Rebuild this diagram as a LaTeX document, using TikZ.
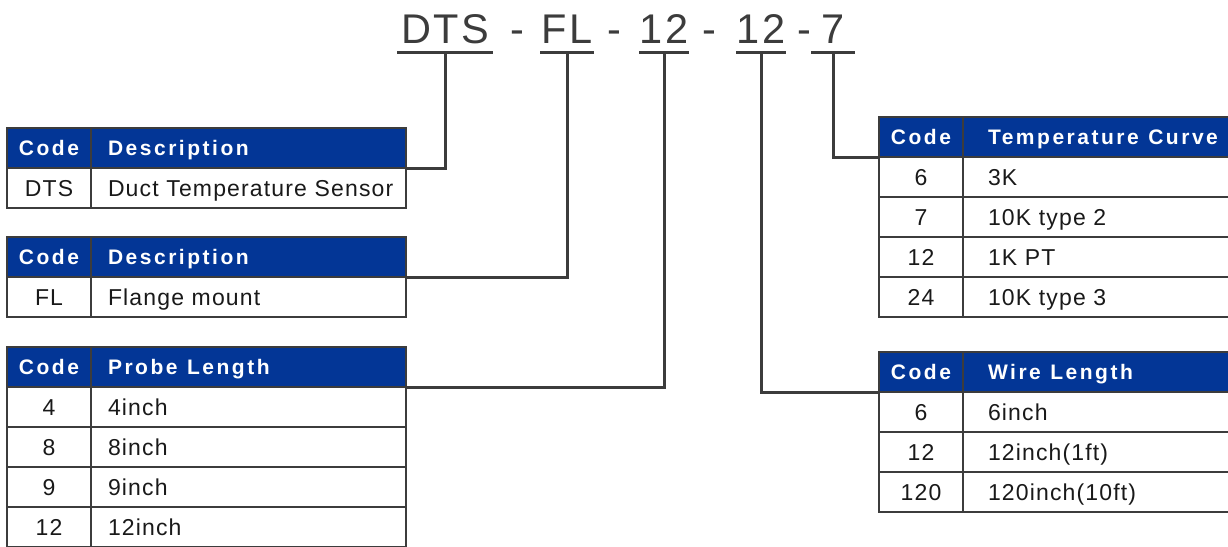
\documentclass[tikz,border=0pt]{standalone}
\usepackage{fontspec}
\setmainfont{Liberation Sans}
\newfontfamily\titlefont[LetterSpace=6]{Liberation Sans}
\newfontfamily\headfont[LetterSpace=12]{Liberation Sans}
\newfontfamily\bodyfont[LetterSpace=5]{Liberation Sans}
\usetikzlibrary{positioning}
\definecolor{hdblue}{RGB}{3,54,150}
\definecolor{rulegray}{RGB}{60,60,60}
\tikzset{
  cell/.style={draw=rulegray, line width=2pt, minimum height=40pt, inner ysep=0pt, outer sep=0pt,
    text height=16.5pt, text depth=0pt, text=black!90, font=\bodyfont\fontsize{23}{23}\selectfont},
  head/.style={cell, fill=hdblue, text=white, text height=15pt, font=\headfont\bfseries\fontsize{21}{21}\selectfont},
  codecol/.style={minimum width=84pt, inner xsep=0pt, align=center},
  desccol/.style={minimum width=315pt, text width=281pt, inner xsep=17pt, align=left},
  widecol/.style={minimum width=290pt, text width=240pt, inner xsep=25pt, align=left},
  part/.style={inner sep=0pt, text depth=0pt, text=rulegray, anchor=base, font=\titlefont\fontsize{41.5}{41.5}\selectfont},
  link/.style={draw=rulegray, line width=3pt},
}
\begin{document}
\begin{tikzpicture}[x=1pt, y=-1pt]
\useasboundingbox (0,0) rectangle (1228,546);
\clip (0,0) rectangle (1228,546);
% model code
\node[part, minimum width=95pt] (dts) at (445,43) {DTS};
\node[part] (dash1) at (517,43) {-};
\node[part, minimum width=53pt] (fl) at (567,43) {FL};
\node[part] (dash2) at (614,43) {-};
\node[part, minimum width=44pt] (probe) at (664,43) {12};
\node[part] (dash3) at (709,43) {-};
\node[part, minimum width=44pt] (wire) at (761,43) {12};
\node[part] (dash4) at (804,43) {-};
\node[part, minimum width=43pt] (curve) at (833,43) {7};
\draw[link] ([yshift=-9pt]dts.south west) -- ([yshift=-9pt]dts.south east);
\draw[link] ([yshift=-9pt]fl.south west) -- ([yshift=-9pt]fl.south east);
\draw[link] ([yshift=-9pt]probe.south west) -- ([yshift=-9pt]probe.south east);
\draw[link] ([yshift=-9pt]wire.south west) -- ([yshift=-9pt]wire.south east);
\draw[link] ([yshift=-9pt]curve.south west) -- ([yshift=-9pt]curve.south east);
% sensor type
\node[cell, head, codecol, anchor=north west] (dtsch) at (7,128) {Code};
\node[cell, head, desccol, right=0pt of dtsch] (dtshd) {Description};
\node[cell, codecol, below=0pt of dtsch] (dtsc1) {DTS};
\node[cell, desccol, below=0pt of dtshd] (dtsd1) {Duct Temperature Sensor};
% mounting
\node[cell, head, codecol, anchor=north west] (flch) at (7,237) {Code};
\node[cell, head, desccol, right=0pt of flch] (flhd) {Description};
\node[cell, codecol, below=0pt of flch] (flc1) {FL};
\node[cell, desccol, below=0pt of flhd] (fld1) {Flange mount};
% probe length
\node[cell, head, codecol, anchor=north west] (pbch) at (7,347) {Code};
\node[cell, head, desccol, right=0pt of pbch] (pbhd) {Probe\hspace{0.45em}Length};
\node[cell, codecol, below=0pt of pbch] (pbc1) {4};
\node[cell, desccol, below=0pt of pbhd] (pbd1) {4inch};
\node[cell, codecol, below=0pt of pbc1] (pbc2) {8};
\node[cell, desccol, below=0pt of pbd1] (pbd2) {8inch};
\node[cell, codecol, below=0pt of pbc2] (pbc3) {9};
\node[cell, desccol, below=0pt of pbd2] (pbd3) {9inch};
\node[cell, codecol, below=0pt of pbc3] (pbc4) {12};
\node[cell, desccol, below=0pt of pbd3] (pbd4) {12inch};
% temperature curve
\node[cell, head, codecol, anchor=north west] (tcch) at (879,117) {Code};
\node[cell, head, widecol, right=0pt of tcch] (tchd) {Temperature\hspace{0.45em}Curve};
\node[cell, codecol, below=0pt of tcch] (tcc1) {6};
\node[cell, widecol, below=0pt of tchd] (tcd1) {3K};
\node[cell, codecol, below=0pt of tcc1] (tcc2) {7};
\node[cell, widecol, below=0pt of tcd1] (tcd2) {10K type 2};
\node[cell, codecol, below=0pt of tcc2] (tcc3) {12};
\node[cell, widecol, below=0pt of tcd2] (tcd3) {1K PT};
\node[cell, codecol, below=0pt of tcc3] (tcc4) {24};
\node[cell, widecol, below=0pt of tcd3] (tcd4) {10K type 3};
% wire length
\node[cell, head, codecol, anchor=north west] (wlch) at (879,352) {Code};
\node[cell, head, widecol, right=0pt of wlch] (wlhd) {Wire\hspace{0.45em}Length};
\node[cell, codecol, below=0pt of wlch] (wlc1) {6};
\node[cell, widecol, below=0pt of wlhd] (wld1) {6inch};
\node[cell, codecol, below=0pt of wlc1] (wlc2) {12};
\node[cell, widecol, below=0pt of wld1] (wld2) {12inch(1ft)};
\node[cell, codecol, below=0pt of wlc2] (wlc3) {120};
\node[cell, widecol, below=0pt of wld2] (wld3) {120inch(10ft)};
% leaders
\draw[link] ([yshift=-9pt]dts.south) |- (dtshd.south east);
\draw[link] ([yshift=-9pt]fl.south) |- (flhd.south east);
\draw[link] ([yshift=-9pt]probe.south) |- (pbhd.south east);
\draw[link] ([yshift=-9pt]wire.south) |- (wlch.south west);
\draw[link] ([yshift=-9pt]curve.south) |- (tcch.south west);
\end{tikzpicture}
\end{document}
